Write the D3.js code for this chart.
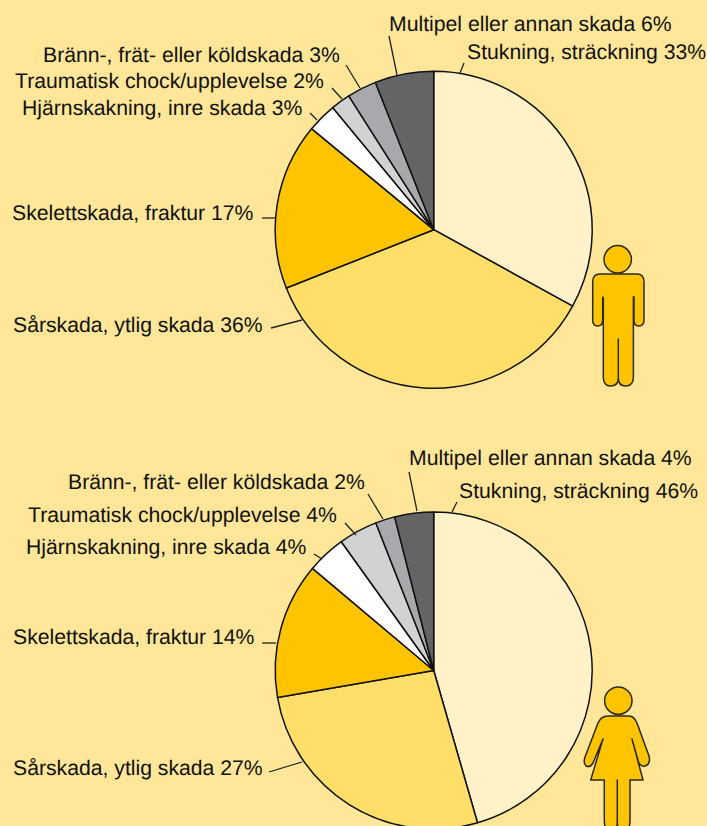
<!DOCTYPE html>
<html><head><meta charset="utf-8">
<script src="https://cdnjs.cloudflare.com/ajax/libs/d3/7.8.5/d3.min.js"></script>
<style>html,body{margin:0;padding:0;background:#FFE699;overflow:hidden}svg{display:block}
text{font-family:"Liberation Sans",Arial,sans-serif;font-size:21.2px;fill:#111;text-rendering:geometricPrecision}</style>
</head><body><svg id="c" width="707" height="826"></svg>
<script>
const categories = ["Stukning, sträckning","Sårskada, ytlig skada","Skelettskada, fraktur","Hjärnskakning, inre skada","Traumatisk chock/upplevelse","Bränn-, frät- eller köldskada","Multipel eller annan skada"];
const menValues = [33,36,17,3,2,3,6];
const womenValues = [46,27,14,4,4,2,4];
const colors = ["#FFF2C8","#FFDF6A","#FFC400","#FFFFFF","#D0D2D3","#A7A9AC","#636466"];
// layout: label x, baseline y, leader x1,y1,x2,y2
const menLayout = [[467,59,464,63,460,73],[13,332,271,328,302,320],[12,220,262,218,275,218],[22,115,310,113,317,120],[15,88,332,88,342,99],[43,62,346,65,360,88],[389,31,389,36,397,75]];
const womenLayout = [[459,498,457,502,452,512],[13,775,269,772,302,762],[13,644,262,643,276,643],[26,554,314,554,322,559],[28,522,345,523,356,535],[68,489,368,494,383,519],[409,465,409,472,417,511]];
const svg = d3.select("#c");
const pie = d3.pie().sort(null);
const arc = d3.arc().innerRadius(0).outerRadius(158.5);
function drawPie(values, layout, cy){
  const g = svg.append("g").attr("transform",`translate(433.7,${cy})`);
  g.selectAll("path").data(pie(values)).join("path")
    .attr("d",arc).attr("fill",(d,i)=>colors[i])
    .attr("stroke","#111").attr("stroke-width",1.5).attr("stroke-linejoin","round");
  layout.forEach((l,i)=>{
    svg.append("line").attr("x1",l[2]).attr("y1",l[3]).attr("x2",l[4]).attr("y2",l[5])
      .attr("stroke","#222").attr("stroke-width",1.3);
    svg.append("text").attr("x",l[0]).attr("y",l[1]).text(`${categories[i]} ${values[i]}%`);
  });
}
drawPie(menValues, menLayout, 229.7);
drawPie(womenValues, womenLayout, 670.5);
const fig = {fill:"#FFC400",stroke:"#2a2a1a"};
function figure(d, hx, hy){
  const g = svg.append("g");
  g.append("circle").attr("cx",hx).attr("cy",hy).attr("r",13.7).attr("fill",fig.fill).attr("stroke",fig.stroke).attr("stroke-width",1.5);
  g.append("path").attr("d",d).attr("fill",fig.fill).attr("stroke",fig.stroke).attr("stroke-width",1.5).attr("stroke-linejoin","round");
}
figure("M600,274 H637 Q644,274 644,282 V320 Q644,326 638.5,326 Q634,326 634,320 V297 Q633.4,296 633.4,298 V377 Q633.4,386 625.5,386 Q618.3,386 618.3,378 V339 V378 Q618.3,386 610.5,386 Q603.3,386 603.3,377 V298 Q603,296 602.7,298 V320 Q602.7,326 597.5,326 Q592.7,326 592.7,320 V282 Q592.7,274 600,274 Z",617.7,259.3);
figure("M608,716 H629 Q634,716 637,723 L649,756 Q651,764 645,766 Q641,767 638.5,762 L632,739 L643,780 H630 V820 Q630,832 623.5,832 Q617.3,832 617.3,822 V780 V822 Q617.3,832 611,832 Q604.3,832 604.3,820 V780 H590.7 L603,739 L593,763 Q590,768 586,766 Q583,763 585,757 L598,723 Q601,716 608,716 Z",618.3,700.7);
</script></body></html>
